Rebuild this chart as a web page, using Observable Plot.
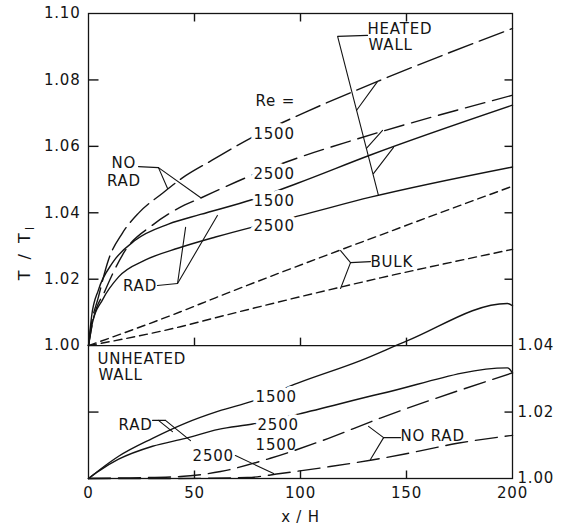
<!DOCTYPE html>
<html>
<head>
<meta charset="utf-8">
<script src="https://cdn.jsdelivr.net/npm/d3@7"></script>
<script src="https://cdn.jsdelivr.net/npm/@observablehq/plot@0.6"></script>
<style>
  body { margin: 0; background: #fff; }
  svg text { letter-spacing: 0.8px; }
</style>
</head>
<body>
<div id="chart"></div>
<script>
// ---------- tick labels ----------
const xTicks = [0, 50, 100, 150, 200];
const yTicksTop = [1.00, 1.02, 1.04, 1.06, 1.08, 1.10];      // heated-wall panel (left axis)
const yTicksBottom = [1.00, 1.02, 1.04];                      // unheated-wall panel (right axis)
const LOWER_OFFSET = 0.04;  // lower panel's 1.04 sits on the upper panel's 1.00

// ---------- heated wall (upper panel), [x/H, T/TI] ----------
const heatedNoRad1500 = [[0,1.000],[1,1.005],[4.7,1.0147],[9.4,1.0258],[16,1.0339],[23.6,1.0399],[34.9,1.0459],[44.3,1.0505],[58.5,1.0559],[77.4,1.0628],[102.4,1.0703],[137.7,1.0799],[200,1.0955]];
const heatedNoRad2500 = [[0,1.000],[1.9,1.0069],[8,1.0168],[17.5,1.0288],[30.2,1.0363],[42.5,1.0414],[52.8,1.0444],[77.4,1.0514],[98.6,1.0565],[125,1.0619],[200,1.0754]];
const heatedRad1500   = [[0,1.000],[1.5,1.009],[4.7,1.0168],[11.3,1.0249],[22.2,1.0318],[37.7,1.0366],[52.8,1.0395],[77.4,1.0440],[98.6,1.0489],[133,1.0574],[200,1.0724]];
const heatedRad2500   = [[0,1.000],[1.9,1.007],[6.6,1.0138],[14.2,1.0207],[26.9,1.0258],[42.5,1.0294],[59.9,1.0327],[77.4,1.0357],[98.6,1.039],[133,1.0447],[200,1.0538]];
const bulk1500        = [[0,1.000],[43.4,1.0102],[59.9,1.0144],[137.7,1.0333],[200,1.048]];
const bulk2500        = [[0,1.000],[43.4,1.0057],[59.9,1.0084],[137.7,1.0204],[200,1.029]];

// ---------- unheated wall (lower panel), [x/H, T/TI] ----------
const unheatedRad1500   = [[0,1.000],[5,1.0025],[14.2,1.0067],[30.2,1.0121],[45.8,1.0167],[61.3,1.0203],[77.4,1.0233],[99,1.0288],[128.3,1.0355],[150.5,1.0415],[197.6,1.0527],[200,1.052]];
const unheatedRad2500   = [[0,1.000],[5,1.0023],[14.2,1.0058],[30.2,1.0097],[45.8,1.0121],[61.3,1.0148],[77.4,1.0164],[99,1.0194],[137.7,1.0255],[197.6,1.0333],[200,1.0318]];
const unheatedNoRad1500 = [[0,1.000],[20,1.0002],[43.4,1.0006],[62.3,1.0021],[85.8,1.0061],[109.4,1.0112],[137.7,1.0182],[200,1.0318]];
const unheatedNoRad2500 = [[0,1.000],[40,1.000],[75,1.0003],[90.6,1.0015],[114,1.0036],[133,1.0055],[148.6,1.0073],[174,1.0106],[200,1.013]];

const series = [
  {name: "heated NO RAD 1500", panel: "upper", data: heatedNoRad1500},
  {name: "heated NO RAD 2500", panel: "upper", data: heatedNoRad2500},
  {name: "heated RAD 1500",    panel: "upper", data: heatedRad1500},
  {name: "heated RAD 2500",    panel: "upper", data: heatedRad2500},
  {name: "bulk 1500",          panel: "upper", data: bulk1500},
  {name: "bulk 2500",          panel: "upper", data: bulk2500},
  {name: "unheated RAD 1500",  panel: "lower", data: unheatedRad1500},
  {name: "unheated RAD 2500",  panel: "lower", data: unheatedRad2500},
  {name: "unheated NO RAD 1500", panel: "lower", data: unheatedNoRad1500},
  {name: "unheated NO RAD 2500", panel: "lower", data: unheatedNoRad2500}
];

// line styles (dash patterns)
const dashes = {
  "heated NO RAD 1500": "26,7",
  "heated NO RAD 2500": "20,8",
  "heated RAD 1500": null,
  "heated RAD 2500": null,
  "bulk 1500": "8,5",
  "bulk 2500": "8,5",
  "unheated RAD 1500": null,
  "unheated RAD 2500": null,
  "unheated NO RAD 1500": "22,8",
  "unheated NO RAD 2500": "22,8"
};

// ---------- annotations (chart coordinates: x/H, plotted T/TI) ----------
const labels = [
  {text: "HEATED", x: 131.6, y: 1.0953, anchor: "start"},
  {text: "WALL",   x: 132.1, y: 1.0904, anchor: "start"},
  {text: "Re =",   x: 78.8,  y: 1.0735, anchor: "start"},
  {text: "1500",   x: 77.8,  y: 1.0636, anchor: "start", halo: true},
  {text: "2500",   x: 77.8,  y: 1.0515, anchor: "start", halo: true},
  {text: "1500",   x: 77.8,  y: 1.0434, anchor: "start", halo: true},
  {text: "2500",   x: 77.8,  y: 1.0359, anchor: "start", halo: true},
  {text: "NO",     x: 16.7,  y: 1.0548, anchor: "middle"},
  {text: "RAD",    x: 16.7,  y: 1.0494, anchor: "middle"},
  {text: "RAD",    x: 24.3,  y: 1.0178, anchor: "middle"},
  {text: "BULK",   x: 133.0, y: 1.0252, anchor: "start"},
  {text: "UNHEATED", x: 4.2, y: 0.9960, anchor: "start"},
  {text: "WALL",   x: 4.7,   y: 0.9910, anchor: "start"},
  {text: "RAD",    x: 14.2,  y: 0.9762, anchor: "start"},
  {text: "1500",   x: 78.8,  y: 0.9845, anchor: "start", halo: true},
  {text: "2500",   x: 79.7,  y: 0.9760, anchor: "start", halo: true},
  {text: "1500",   x: 78.8,  y: 0.9699, anchor: "start"},
  {text: "2500",   x: 49.1,  y: 0.9666, anchor: "start"},
  {text: "NO RAD", x: 147.2, y: 0.9726, anchor: "start"}
];

const leaders = [
  {id: "heated",   pts: [[131.6,1.0934],[117.5,1.0931],[136.8,1.0452]]},
  {id: "heated-a", pts: [[136.3,1.0795],[126.4,1.0708]]},
  {id: "heated-b", pts: [[138.7,1.0648],[131.1,1.0594]]},
  {id: "heated-c", pts: [[143.9,1.0597],[134.4,1.0518]]},
  {id: "norad",    pts: [[23.6,1.0539],[33.0,1.0536]]},
  {id: "norad-a",  pts: [[33.0,1.0536],[37.3,1.0473]]},
  {id: "norad-b",  pts: [[33.0,1.0536],[52.8,1.0446]]},
  {id: "rad",      pts: [[32.5,1.0181],[42.0,1.0187]]},
  {id: "rad-a",    pts: [[42.0,1.0187],[45.8,1.0356]]},
  {id: "rad-b",    pts: [[42.0,1.0187],[60.8,1.0392]]},
  {id: "bulk",     pts: [[133.0,1.0253],[123.6,1.0250]]},
  {id: "bulk-a",   pts: [[123.6,1.0250],[118.9,1.0286]]},
  {id: "bulk-b",   pts: [[123.6,1.0250],[118.9,1.0172]]},
  {id: "urad",     pts: [[30.2,0.9775],[36.3,0.9775]]},
  {id: "urad-a",   pts: [[33.0,0.9775],[39.6,0.9741]]},
  {id: "urad-b",   pts: [[36.3,0.9775],[48.1,0.9714]]},
  {id: "u2500",    pts: [[69.3,0.9669],[87.3,0.9615]]},
  {id: "unorad",   pts: [[147.2,0.9723],[139.2,0.9723]]},
  {id: "unorad-a", pts: [[139.2,0.9723],[132.1,0.9757]]},
  {id: "unorad-b", pts: [[139.2,0.9723],[133.0,0.9657]]}
];

// ---------- build ----------
const INK = "#141414";
const FONT = "DejaVu Sans";
const W = 562, H = 531, mL = 88, mR = 50, mT = 13, mB = 53;
const pxX = 200 / (W - mL - mR);
const pxY = 0.14 / (H - mT - mB);

const rows = series.flatMap(s => s.data.map(([x, v]) => ({
  name: s.name, x, y: s.panel === "lower" ? v - LOWER_OFFSET : v
})));
const leaderRows = leaders.flatMap(l => l.pts.map(([x, y]) => ({id: l.id, x, y})));

// inward tick marks, built from the tick arrays
const innerY = [...yTicksTop.filter(v => v > 1.00 && v < 1.10), yTicksBottom[1] - LOWER_OFFSET];
const innerX = xTicks.filter(d => d > 0 && d < 200);
const tickSegs = [
  ...innerY.map(v => ({x1: 0, x2: 10 * pxX, y1: v, y2: v})),
  ...innerY.map(v => ({x1: 200 - 8 * pxX, x2: 200, y1: v, y2: v})),
  ...innerX.map(v => ({x1: v, x2: v, y1: 1.10, y2: 1.10 - 8 * pxY})),
  ...innerX.map(v => ({x1: v, x2: v, y1: 1.00, y2: 1.00 + 8 * pxY})),
  ...innerX.map(v => ({x1: v, x2: v, y1: 0.96, y2: 0.96 + 8 * pxY}))
];

const chart = Plot.plot({
  width: W, height: H,
  marginLeft: mL, marginRight: mR, marginTop: mT, marginBottom: mB,
  x: {domain: [0, 200]},
  y: {domain: [0.96, 1.10]},
  style: {fontFamily: FONT, fontSize: "15px", color: INK, background: "#fff"},
  marks: [
    Plot.frame({stroke: INK, strokeWidth: 1.3}),
    Plot.ruleY([1.00], {stroke: INK, strokeWidth: 1.3}),
    Plot.link(tickSegs, {x1: "x1", x2: "x2", y1: "y1", y2: "y2", stroke: INK, strokeWidth: 1.4}),
    // axes labels
    Plot.axisY({anchor: "left", ticks: yTicksTop, tickSize: 0, tickPadding: 8,
      tickFormat: d3.format(".2f"), label: null, fontSize: 15, fill: INK}),
    Plot.axisY({anchor: "right", ticks: yTicksBottom.map(v => v - LOWER_OFFSET), tickSize: 0, tickPadding: 5,
      tickFormat: d => (d + LOWER_OFFSET).toFixed(2), label: null, fontSize: 15, fill: INK}),
    Plot.axisX({ticks: xTicks, tickSize: 0, tickPadding: 9, tickFormat: d => String(d), label: null, fontSize: 15, fill: INK}),
    // curves
    ...series.map(s => Plot.line(rows.filter(r => r.name === s.name), {
      x: "x", y: "y", stroke: INK, strokeWidth: 1.4,
      strokeDasharray: dashes[s.name] || undefined, curve: "monotone-x"
    })),
    // leader lines
    Plot.line(leaderRows, {x: "x", y: "y", z: "id", stroke: INK, strokeWidth: 1.1}),
    // labels
    Plot.text(labels.filter(d => d.halo), {x: "x", y: "y", text: "text", textAnchor: "start",
      fill: INK, stroke: "white", strokeWidth: 8, fontSize: 15}),
    Plot.text(labels.filter(d => !d.halo && d.anchor === "start"), {x: "x", y: "y", text: "text", textAnchor: "start", fill: INK, fontSize: 15}),
    Plot.text(labels.filter(d => !d.halo && d.anchor === "middle"), {x: "x", y: "y", text: "text", textAnchor: "middle", fill: INK, fontSize: 15}),
    Plot.text(["x / H"], {frameAnchor: "bottom", dy: 43, text: d => d, fill: INK, fontSize: 15})
  ]
});

document.getElementById("chart").appendChild(chart);

// y-axis title with subscript
const svg = d3.select(chart);
const t = svg.append("text")
  .attr("transform", "translate(30,252) rotate(-90)")
  .attr("text-anchor", "middle")
  .attr("font-family", FONT)
  .attr("font-size", 16)
  .attr("fill", INK)
  .style("letter-spacing", "3px");
t.append("tspan").text("T / T");
t.append("tspan").attr("dy", 4).attr("font-size", 12).text("I");
</script>
</body>
</html>
